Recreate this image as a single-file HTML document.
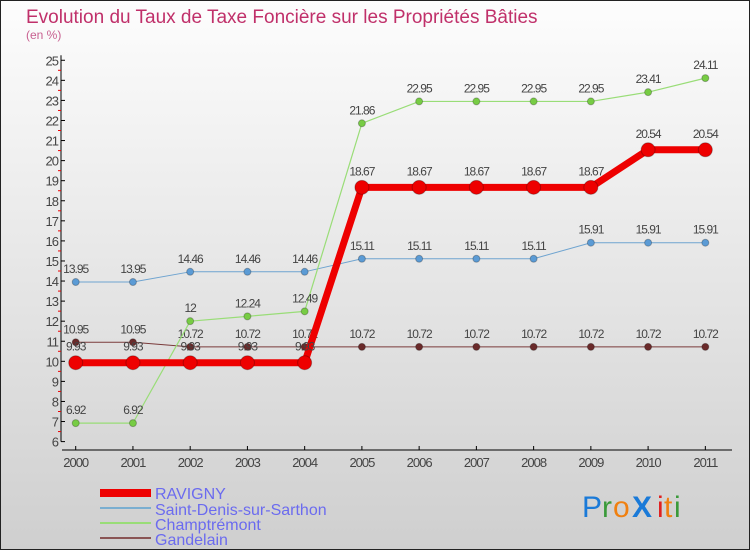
<!DOCTYPE html>
<html><head><meta charset="utf-8"><style>
body{margin:0}
#c{width:748px;height:548px;border:1px solid #222;position:relative;background:linear-gradient(#fdfdfd,#cfcfcf);font-family:"Liberation Sans",sans-serif;overflow:hidden}
</style></head><body>
<div id="c">
<svg id="s" width="748" height="548" style="position:absolute;left:-1px;top:-1px">
<text x="26" y="23" font-size="19" fill="#c0306a">Evolution du Taux de Taxe Foncière sur les Propriétés Bâties</text>
<text x="26" y="39" font-size="12" fill="#c86090">(en %)</text>
<g id="axes"></g><g id="series"></g>
<g>
<rect x="100" y="489" width="51" height="8" fill="#e00"/>
<text x="155" y="499" font-size="16" fill="#6b6bef">RAVIGNY</text>
<rect x="100" y="507" width="51" height="2" fill="#7aaed0"/>
<text x="155" y="515" font-size="16" fill="#6b6bef">Saint-Denis-sur-Sarthon</text>
<rect x="100" y="522" width="51" height="2" fill="#99dd77"/>
<text x="155" y="530" font-size="16" fill="#6b6bef">Champtrémont</text>
<rect x="100" y="537" width="51" height="2" fill="#8a5555"/>
<text x="155" y="545" font-size="16" fill="#6b6bef">Gandelain</text>
</g>
<g font-size="30" font-family="Liberation Sans,sans-serif">
<text x="582" y="517" fill="#1a7ad8">P</text><text x="602" y="517" fill="#3a9a3a">r</text><text x="613" y="517" fill="#f08010">o</text><text x="632" y="517" fill="#1a7ad8" font-weight="bold">X</text><text x="657" y="517" fill="#e02020">i</text><text x="664" y="517" fill="#f08010">t</text><text x="674" y="517" fill="#3a9a3a">i</text>
</g>
</svg>
</div>
<script>
const years=["2000","2001","2002","2003","2004","2005","2006","2007","2008","2009","2010","2011"];
const yTicks=[6,7,8,9,10,11,12,13,14,15,16,17,18,19,20,21,22,23,24,25];
const ravigny=[9.93,9.93,9.93,9.93,9.93,18.67,18.67,18.67,18.67,18.67,20.54,20.54];
const saintDenis=[13.95,13.95,14.46,14.46,14.46,15.11,15.11,15.11,15.11,15.91,15.91,15.91];
const champtremont=[6.92,6.92,12,12.24,12.49,21.86,22.95,22.95,22.95,22.95,23.41,24.11];
const gandelain=[10.95,10.95,10.72,10.72,10.72,10.72,10.72,10.72,10.72,10.72,10.72,10.72];
const NS="http://www.w3.org/2000/svg";
const X=i=>75.7+i*57.24;
const Y=v=>441.6-(v-6)*20.07;
function mk(tag,at,parent){const e=document.createElementNS(NS,tag);for(const k in at)e.setAttribute(k,at[k]);parent.appendChild(e);return e;}
const ax=document.getElementById('axes');
let l=mk('line',{x1:61,y1:Y(25)-5,x2:61,y2:Y(6),stroke:'#000'},ax);


l=mk('line',{x1:62,y1:450,x2:732,y2:450,stroke:'#000'},ax);


yTicks.forEach(v=>{
 mk('line',{x1:61,y1:Y(v),x2:65,y2:Y(v),stroke:'#000'},ax);
 if(v<25)mk('line',{x1:58,y1:Y(v+0.5),x2:61,y2:Y(v+0.5),stroke:'#e00'},ax);
 const t=mk('text',{x:58,y:Y(v)+5,'font-size':13,fill:'#444','text-anchor':'end','letter-spacing':'-1'},ax);
 t.textContent=v;
 
 
});
years.forEach((y,i)=>{
 mk('line',{x1:X(i),y1:446,x2:X(i),y2:450,stroke:'#000'},ax);
 const t=mk('text',{x:X(i),y:467,'font-size':13,fill:'#444','text-anchor':'middle','letter-spacing':'-1'},ax);
 t.textContent=y;
 
 
});
const sg=document.getElementById('series');
function series(data,name,color,lw,r,dot,off){
 const g=mk('g',{},sg);
 
 
 const p=mk('polyline',{points:data.map((v,i)=>X(i)+','+Y(v)).join(' '),fill:'none',stroke:color,'stroke-width':lw,'stroke-linejoin':'round'},g);
 
 
 data.forEach((v,i)=>{
  const c=mk('circle',{cx:X(i),cy:Y(v),r:r,fill:dot,stroke:'rgba(0,0,0,0.25)','stroke-width':1},g);
  
  
  const t=mk('text',{x:X(i),y:Y(v)-off,'font-size':12,fill:'#444','text-anchor':'middle','letter-spacing':'-1'},g);
  t.textContent=String(v);
  
  
 });
}
series(gandelain,'gandelain','#7a3a3a',1,3.5,'#6a2a2a',9);
series(saintDenis,'saint-denis','#6fa4d0',1,3.5,'#5b9bd5',9);
series(champtremont,'champtremont','#99dd77',1.2,3.5,'#77cc44',9);
series(ravigny,'ravigny','#e00',7,7,'#e00',12);
</script>
</body></html>
